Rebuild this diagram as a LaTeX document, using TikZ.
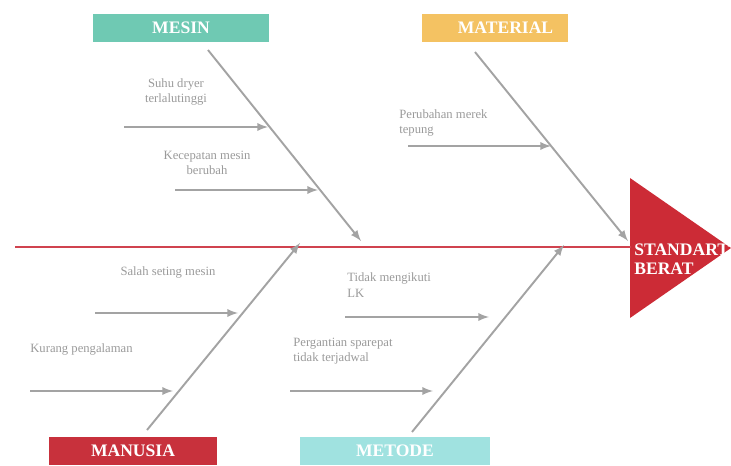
\documentclass[tikz,border=0pt]{standalone}
\usepackage{fontspec}
\setmainfont{Liberation Serif}
\usepackage{xcolor}
\usepackage{tikz}
\usetikzlibrary{arrows,
                positioning}
\definecolor{mesinc}{HTML}{6FC9B3}
\definecolor{materialc}{HTML}{F4C262}
\definecolor{manusiac}{HTML}{C8313C}
\definecolor{metodec}{HTML}{A0E2E0}
\definecolor{spinec}{HTML}{D0434F}
\definecolor{headc}{HTML}{CC2B36}
\definecolor{bonec}{HTML}{A3A3A3}
\definecolor{textc}{HTML}{9A9A9A}
\tikzstyle{arrow} = [line width=1.1pt,bonec,->,>=latex]
\tikzstyle{catbox} = [rectangle, minimum height=16.5pt, text=white, font=\bfseries\fontsize{10}{11}\selectfont, inner sep=0pt]
\tikzstyle{cause} = [text=textc, font=\fontsize{7.2}{8.8}\selectfont, inner sep=0pt, align=left]

\begin{document}
\begin{tikzpicture}[x=0.02cm,y=-0.02cm]
    \useasboundingbox (0,0) rectangle (731,466);
    \node[catbox,fill=mesinc, minimum width=100pt] (mesin) at (181,28) {MESIN};
    \node[catbox,fill=materialc, minimum width=83pt] (material) at (495,28) {\hspace{12pt}MATERIAL};
    \node[catbox,fill=manusiac, minimum width=96pt] (manusia) at (133,451) {MANUSIA};
    \node[catbox,fill=metodec, minimum width=108pt] (metode) at (395,451) {METODE};

    % kepala ikan
    \fill[headc] (630,178) -- (731,248) -- (630,318) -- cycle;
    \node[text=white, font=\bfseries\fontsize{10}{10.5}\selectfont, align=left, inner sep=0pt, anchor=west] (head) at (634,259) {STANDART\\BERAT};
    \coordinate (tail) at (15,247);
    \coordinate (headin) at (631,247);
    \draw[spinec, line width=1.3pt] (tail) -- (headin);

    % tulang utama
    \coordinate (m1) at (208,50);   \coordinate (m2) at (361,241);
    \coordinate (t1) at (475,52);   \coordinate (t2) at (628,241);
    \coordinate (u1) at (147,430);  \coordinate (u2) at (300,243);
    \coordinate (d1) at (412,432);  \coordinate (d2) at (564,245);
    \draw [arrow] (m1) -- (m2);
    \draw [arrow] (t1) -- (t2);
    \draw [arrow] (u1) -- (u2);
    \draw [arrow] (d1) -- (d2);

    % penyebab
    \node[cause, align=center] (c1) at (176,92) {Suhu dryer\\terlalutinggi};
    \coordinate (c1a) at (124,127); \coordinate (c1b) at (268,127);
    \draw [arrow] (c1a) -- (c1b);
    \node[cause, align=center] (c2) at (207,163) {Kecepatan mesin\\berubah};
    \coordinate (c2a) at (175,190); \coordinate (c2b) at (318,190);
    \draw [arrow] (c2a) -- (c2b);
    \node[cause, anchor=west] (c3) at (399,123) {Perubahan merek\\tepung};
    \coordinate (c3a) at (408,146); \coordinate (c3b) at (551,146);
    \draw [arrow] (c3a) -- (c3b);
    \node[cause] (c4) at (168,272) {Salah seting mesin};
    \coordinate (c4a) at (95,313); \coordinate (c4b) at (238,313);
    \draw [arrow] (c4a) -- (c4b);
    \node[cause, anchor=west] (c5) at (30,349) {Kurang pengalaman};
    \coordinate (c5a) at (30,391); \coordinate (c5b) at (173,391);
    \draw [arrow] (c5a) -- (c5b);
    \node[cause, anchor=west] (c6) at (347,285) {Tidak mengikuti\\LK};
    \coordinate (c6a) at (345,317); \coordinate (c6b) at (489,317);
    \draw [arrow] (c6a) -- (c6b);
    \node[cause, anchor=west] (c7) at (293,351) {Pergantian sparepat\\tidak terjadwal};
    \coordinate (c7a) at (290,391); \coordinate (c7b) at (433,391);
    \draw [arrow] (c7a) -- (c7b);
\end{tikzpicture}
\end{document}
